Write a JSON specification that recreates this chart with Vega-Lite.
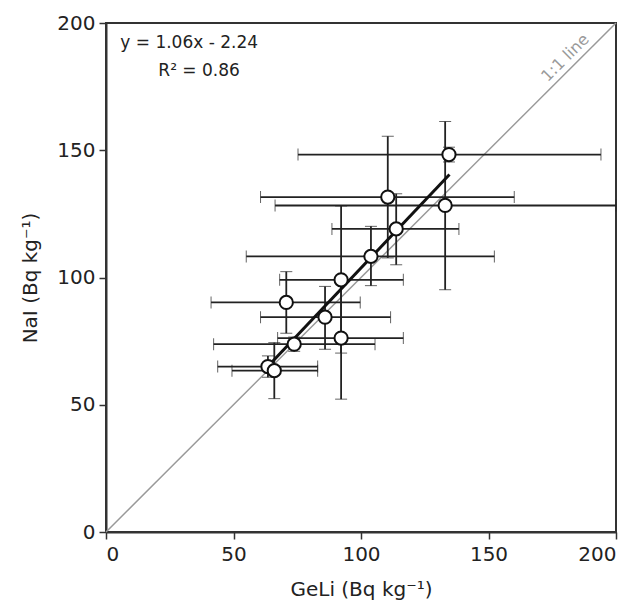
{
  "$schema": "https://vega.github.io/schema/vega-lite/v6.json",
  "width": 510,
  "height": 509,
  "autosize": "none",
  "padding": {"left": 106, "top": 23, "right": 21, "bottom": 75},
  "background": "white",
  "config": {
    "font": "DejaVu Sans",
    "view": {"stroke": "#333", "strokeWidth": 2},
    "axis": {
      "grid": false,
      "domainColor": "#333",
      "domainWidth": 2,
      "tickColor": "#333",
      "tickWidth": 1.5,
      "tickSize": 7,
      "labelFontSize": 20,
      "labelColor": "#222",
      "titleFontSize": 20,
      "titleFontWeight": "normal",
      "titleColor": "#222",
      "labelFont": "DejaVu Sans",
      "titleFont": "DejaVu Sans"
    }
  },
  "datasets": {
    "pts": [
      {"x": 134.5, "y": 148.3, "xlo": 75.3, "xhi": 194.1, "ylo": 145.4, "yhi": 151.2},
      {"x": 110.5, "y": 131.6, "xlo": 60.6, "xhi": 160.1, "ylo": 107.7, "yhi": 155.5},
      {"x": 133.0, "y": 128.3, "xlo": 66.3, "xhi": 200.0, "ylo": 95.2, "yhi": 161.3},
      {"x": 113.8, "y": 119.1, "xlo": 88.6, "xhi": 138.4, "ylo": 105.0, "yhi": 132.9},
      {"x": 103.9, "y": 108.3, "xlo": 55.0, "xhi": 152.3, "ylo": 96.8, "yhi": 120.1},
      {"x": 92.2, "y": 99.1, "xlo": 68.1, "xhi": 116.6, "ylo": 70.3, "yhi": 128.1},
      {"x": 70.7, "y": 90.2, "xlo": 41.2, "xhi": 99.7, "ylo": 78.1, "yhi": 102.3},
      {"x": 85.9, "y": 84.4, "xlo": 60.6, "xhi": 111.6, "ylo": 71.8, "yhi": 96.5},
      {"x": 92.2, "y": 76.2, "xlo": 67.3, "xhi": 116.6, "ylo": 52.2, "yhi": 100.2},
      {"x": 73.8, "y": 73.8, "xlo": 42.2, "xhi": 105.5, "ylo": 71.0, "yhi": 76.6},
      {"x": 63.5, "y": 65.0, "xlo": 43.8, "xhi": 83.0, "ylo": 60.8, "yhi": 69.2},
      {"x": 66.0, "y": 63.4, "xlo": 49.4, "xhi": 83.0, "ylo": 52.4, "yhi": 74.4}
    ],
    "oneone": [{"x": 0, "y": 0, "x2": 200, "y2": 200}],
    "fit": [{"x": 64.0, "y": 65.6, "x2": 134.7, "y2": 140.5}],
    "eqlabel": [{"x": 5.6, "y": 192.0, "text": "y = 1.06x - 2.24"}],
    "r2label": [{"x": 52.5, "y": 181.0, "text": "R² = 0.86"}],
    "linelabel": [{"x": 180.1, "y": 186.3, "text": "1:1 line"}]
  },
  "layer": [
    {
      "data": {"name": "oneone"},
      "mark": {"type": "rule", "color": "#999", "strokeWidth": 1.5},
      "encoding": {
        "x": {"field": "x", "type": "quantitative", "title": "GeLi (Bq kg⁻¹)", "scale": {"domain": [0, 200], "nice": false}, "axis": {"values": [0, 50, 100, 150, 200], "titlePadding": 15, "labelPadding": 5}},
        "y": {"field": "y", "type": "quantitative", "title": "NaI (Bq kg⁻¹)", "scale": {"domain": [0, 200], "nice": false}, "axis": {"values": [0, 50, 100, 150, 200], "titlePadding": 16, "labelPadding": 4}},
        "x2": {"field": "x2"},
        "y2": {"field": "y2"}
      }
    },
    {
      "data": {"name": "linelabel"},
      "mark": {"type": "text", "angle": -45, "fontSize": 16, "color": "#999", "align": "center", "baseline": "middle"},
      "encoding": {
        "x": {"field": "x", "type": "quantitative", "title": "GeLi (Bq kg⁻¹)"},
        "y": {"field": "y", "type": "quantitative", "title": "NaI (Bq kg⁻¹)"},
        "text": {"field": "text"}
      }
    },
    {
      "data": {"name": "pts"},
      "mark": {"type": "errorbar", "ticks": {"size": 12, "color": "#222", "strokeWidth": 2}, "rule": {"color": "#222", "strokeWidth": 1.8}},
      "encoding": {
        "x": {"field": "xlo", "type": "quantitative", "title": "GeLi (Bq kg⁻¹)"},
        "x2": {"field": "xhi"},
        "y": {"field": "y", "type": "quantitative", "title": "NaI (Bq kg⁻¹)"}
      }
    },
    {
      "data": {"name": "pts"},
      "mark": {"type": "errorbar", "ticks": {"size": 12, "color": "#222", "strokeWidth": 2}, "rule": {"color": "#222", "strokeWidth": 1.8}},
      "encoding": {
        "y": {"field": "ylo", "type": "quantitative", "title": "NaI (Bq kg⁻¹)"},
        "y2": {"field": "yhi"},
        "x": {"field": "x", "type": "quantitative", "title": "GeLi (Bq kg⁻¹)"}
      }
    },
    {
      "data": {"name": "fit"},
      "mark": {"type": "rule", "color": "#111", "strokeWidth": 3},
      "encoding": {
        "x": {"field": "x", "type": "quantitative", "title": "GeLi (Bq kg⁻¹)"},
        "y": {"field": "y", "type": "quantitative", "title": "NaI (Bq kg⁻¹)"},
        "x2": {"field": "x2"},
        "y2": {"field": "y2"}
      }
    },
    {
      "data": {"name": "pts"},
      "mark": {"type": "point", "shape": "circle", "filled": true, "fill": "white", "stroke": "#111", "strokeWidth": 2, "size": 175, "opacity": 1},
      "encoding": {
        "x": {"field": "x", "type": "quantitative", "title": "GeLi (Bq kg⁻¹)"},
        "y": {"field": "y", "type": "quantitative", "title": "NaI (Bq kg⁻¹)"}
      }
    },
    {
      "data": {"name": "eqlabel"},
      "mark": {"type": "text", "fontSize": 17, "color": "#222", "align": "left", "baseline": "middle"},
      "encoding": {
        "x": {"field": "x", "type": "quantitative", "title": "GeLi (Bq kg⁻¹)"},
        "y": {"field": "y", "type": "quantitative", "title": "NaI (Bq kg⁻¹)"},
        "text": {"field": "text"}
      }
    },
    {
      "data": {"name": "r2label"},
      "mark": {"type": "text", "fontSize": 17, "color": "#222", "align": "right", "baseline": "middle"},
      "encoding": {
        "x": {"field": "x", "type": "quantitative", "title": "GeLi (Bq kg⁻¹)"},
        "y": {"field": "y", "type": "quantitative", "title": "NaI (Bq kg⁻¹)"},
        "text": {"field": "text"}
      }
    }
  ]
}
